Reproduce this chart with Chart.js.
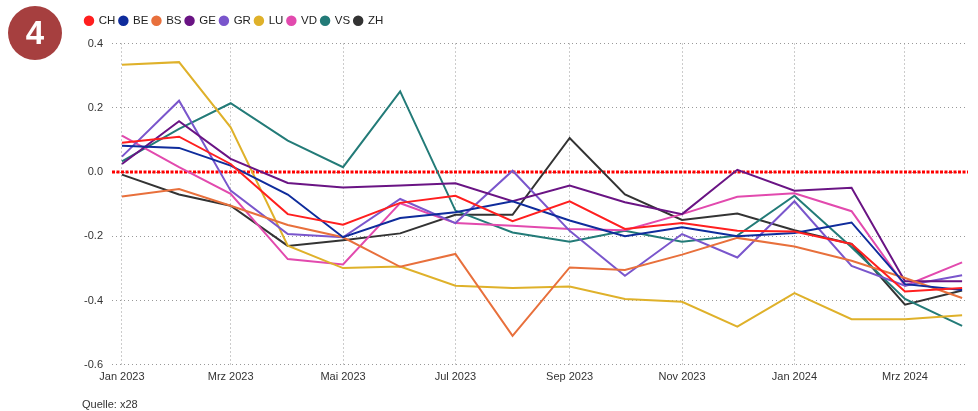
<!DOCTYPE html>
<html>
<head>
<meta charset="utf-8">
<script src="https://cdn.jsdelivr.net/npm/chart.js@4.4.1/dist/chart.umd.min.js"></script>
<style>
  html, body { margin: 0; padding: 0; background: #fff; }
  #wrap { position: relative; width: 978px; height: 411px; font-family: "Liberation Sans", Arial, sans-serif; }
  #badge {
    position: absolute; left: 8px; top: 6px; width: 54px; height: 54px; border-radius: 50%;
    background: #a63f3f; color: #fff; font-weight: bold; font-size: 33px;
    line-height: 54px; text-align: center;
  }
  #source { position: absolute; left: 82px; top: 398px; font-size: 11px; color: #333; }
</style>
</head>
<body>
<div id="wrap">
  <canvas id="chart" width="978" height="411"></canvas>
  <div id="badge">4</div>
  <div id="source">Quelle: x28</div>
</div>
<script>
// months of the series
const months = ['2023-01', '2023-02', '2023-03', '2023-04', '2023-05', '2023-06', '2023-07', '2023-08',
    '2023-09', '2023-10', '2023-11', '2023-12', '2024-01', '2024-02', '2024-03', '2024-04'];
// tick positions and labels on the x axis
const tickMonths = ['2023-01', '2023-03', '2023-05', '2023-07', '2023-09', '2023-11', '2024-01', '2024-03'];
const tickLabels = ['Jan 2023', 'Mrz 2023', 'Mai 2023', 'Jul 2023', 'Sep 2023', 'Nov 2023', 'Jan 2024', 'Mrz 2024'];

// series values
const CH = [0.091, 0.110, 0.025, -0.131, -0.164, -0.096, -0.074, -0.153, -0.091, -0.177, -0.159, -0.183, -0.185, -0.224, -0.372, -0.361];
const BE = [0.082, 0.075, 0.020, -0.070, -0.203, -0.143, -0.125, -0.091, -0.151, -0.200, -0.172, -0.200, -0.190, -0.157, -0.349, -0.367];
const BS = [-0.076, -0.053, -0.105, -0.165, -0.203, -0.295, -0.255, -0.510, -0.297, -0.305, -0.257, -0.205, -0.232, -0.276, -0.330, -0.392];
const GE = [0.025, 0.158, 0.041, -0.034, -0.048, -0.042, -0.035, -0.091, -0.042, -0.094, -0.131, 0.007, -0.058, -0.049, -0.340, -0.340];
const GR = [0.048, 0.222, -0.058, -0.193, -0.203, -0.084, -0.159, 0.004, -0.183, -0.323, -0.193, -0.266, -0.091, -0.292, -0.354, -0.321];
const LU = [0.334, 0.342, 0.139, -0.229, -0.299, -0.294, -0.354, -0.361, -0.356, -0.395, -0.404, -0.481, -0.377, -0.458, -0.458, -0.446];
const VD = [0.113, 0.015, -0.068, -0.271, -0.288, -0.097, -0.159, -0.167, -0.177, -0.181, -0.131, -0.077, -0.066, -0.122, -0.354, -0.281];
const VS = [0.033, 0.134, 0.214, 0.098, 0.015, 0.251, -0.120, -0.188, -0.217, -0.183, -0.217, -0.198, -0.074, -0.234, -0.395, -0.479];
const ZH = [-0.008, -0.070, -0.105, -0.230, -0.212, -0.191, -0.133, -0.133, 0.106, -0.070, -0.149, -0.129, -0.181, -0.224, -0.413, -0.369];

const names = ['CH', 'BE', 'BS', 'GE', 'GR', 'LU', 'VD', 'VS', 'ZH'];
const values = [CH, BE, BS, GE, GR, LU, VD, VS, ZH];
const colors = ['#ff1f1f', '#0f2c9c', '#e8703c', '#6a1484', '#7a56cc', '#dfb12a', '#e24aae', '#237b78', '#333333'];

// days since 1 Jan 2023, so months get their real width
function dayOf(m) {
    var p = m.split('-');
    return (Date.UTC(+p[0], +p[1] - 1, 1) - Date.UTC(2023, 0, 1)) / 86400000;
}

var datasets = names.map(function(n, i) {
    return {
        label: n,
        data: values[i].map(function(v, j) { return { x: dayOf(months[j]), y: v }; }),
        borderColor: colors[i],
        backgroundColor: colors[i],
        borderWidth: 2,
        pointRadius: 0,
        tension: 0,
        fill: false
    };
});

// red dotted line at zero
const zeroLine = {
    id: 'zeroLine',
    beforeDatasetsDraw(chart) {
        var ctx = chart.ctx, a = chart.chartArea;
        var y = chart.scales.y.getPixelForValue(0);
        ctx.save();
        ctx.strokeStyle = '#ff0000';
        ctx.lineWidth = 3;
        ctx.setLineDash([3, 1.5]);
        ctx.beginPath();
        ctx.moveTo(a.left, y);
        ctx.lineTo(a.right, y);
        ctx.stroke();
        ctx.restore();
    }
};

// a bit more room under the legend
const legendGap = {
    id: 'legendGap',
    beforeInit(chart) {
        var fit = chart.legend.fit;
        chart.legend.fit = function() {
            fit.bind(chart.legend)();
            this.height += 7;
        };
    }
};

Chart.defaults.font.family = '"Liberation Sans", Arial, sans-serif';
Chart.defaults.color = '#333';

new Chart(document.getElementById('chart').getContext('2d'), {
    type: 'line',
    data: { datasets: datasets },
    plugins: [zeroLine, legendGap],
    options: {
        responsive: false,
        animation: false,
        layout: { padding: { left: 81, right: 10, top: 11, bottom: 21 } },
        plugins: {
            legend: {
                position: 'top',
                align: 'start',
                labels: {
                    usePointStyle: true,
                    pointStyle: 'circle',
                    boxWidth: 8,
                    boxHeight: 6,
                    padding: 4,
                    font: { size: 11.5 },
                    color: '#222'
                }
            },
            tooltip: { enabled: false }
        },
        scales: {
            x: {
                type: 'linear',
                min: -5.4,
                max: 459.2,
                afterBuildTicks: function(scale) {
                    scale.ticks = tickMonths.map(function(m) { return { value: dayOf(m) }; });
                },
                ticks: {
                    autoSkip: false,
                    maxRotation: 0,
                    padding: 6,
                    font: { size: 11 },
                    callback: function(v) {
                        var i = tickMonths.findIndex(function(m) { return dayOf(m) === v; });
                        return i >= 0 ? tickLabels[i] : '';
                    }
                },
                grid: { color: '#999', lineWidth: 1, drawTicks: false },
                border: { display: false, dash: [1, 3] }
            },
            y: {
                min: -0.6,
                max: 0.4,
                afterFit: function(scale) { scale.width = 31; },
                ticks: {
                    stepSize: 0.2,
                    padding: 9,
                    font: { size: 11 },
                    callback: function(v) { return (Math.round(v * 10) / 10).toFixed(1); }
                },
                grid: { color: '#999', lineWidth: 1, drawTicks: false },
                border: { display: false, dash: [1, 3] }
            }
        }
    }
});
</script>
</body>
</html>
